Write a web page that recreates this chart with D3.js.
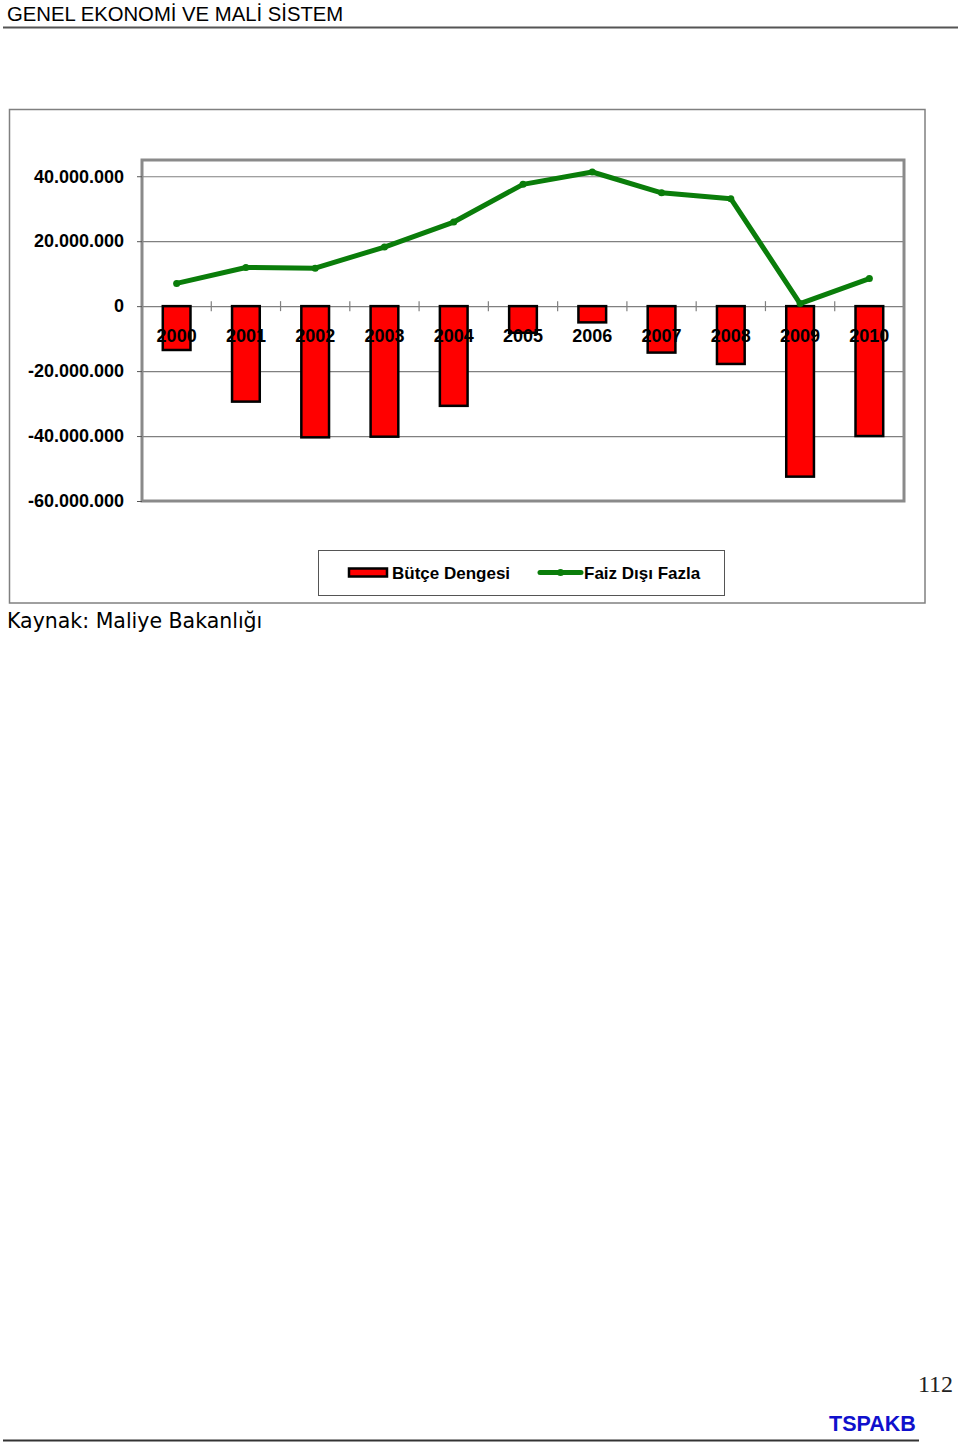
<!DOCTYPE html>
<html>
  <head>
    <meta charset="utf-8">
    <title>Bütçe Dengesi ve Faiz Dışı Fazla</title>
    <script src="https://cdn.jsdelivr.net/npm/d3@7/dist/d3.min.js"></script>
    <style>
      body { margin: 0; background: #fff; }
      #page { font-family: "Liberation Sans", Arial, sans-serif; }
      .yAxis text, .xLabel { font-weight: bold; font-size: 18px; fill: #000; }
      .legendText { font-weight: bold; font-size: 17px; }
    </style>
  </head>

  <body>
    <svg id="page" width="960" height="1442"></svg>

    <script>
      // data (thousand TL)
      const years = ["2000", "2001", "2002", "2003", "2004", "2005", "2006", "2007", "2008", "2009", "2010"];
      const butceDengesi = [-13500000, -29400000, -40400000, -40200000, -30700000, -8200000, -5000000, -14300000, -17800000, -52500000, -40000000];
      const faizDisiFazla = [7000000, 11900000, 11700000, 18200000, 25900000, 37500000, 41300000, 34900000, 33100000, 800000, 8500000];
      const yTicks = [-60000000, -40000000, -20000000, 0, 20000000, 40000000];
      const seriesNames = ["Bütçe Dengesi", "Faiz Dışı Fazla"];

      // elements
      page = d3.select("#page");

      // page header
      page.append("text")
        .attr("x", 7)
        .attr("y", 21)
        .style("font-size", "20.3px")
        .text("GENEL EKONOMİ VE MALİ SİSTEM");
      page.append("line")
        .attr("x1", 3).attr("x2", 958)
        .attr("y1", 27.5).attr("y2", 27.5)
        .attr("stroke", "#555")
        .attr("stroke-width", 2);

      // chart border
      page.append("rect")
        .attr("x", 9.5).attr("y", 109.5)
        .attr("width", 915.5).attr("height", 493.5)
        .attr("fill", "none")
        .attr("stroke", "#808080")
        .attr("stroke-width", 1.5);

      margin = { top: 160, right: 904, bottom: 501, left: 142 };

      x = d3.scaleBand()
        .domain(years)
        .range([margin.left, margin.right])
        .paddingInner(0.6)
        .paddingOuter(0.3);

      y = d3.scaleLinear()
        .domain([-60000000, 45000000])
        .range([margin.bottom, margin.top]);

      const trLocale = d3.formatLocale({ decimal: ",", thousands: ".", grouping: [3], currency: ["", " TL"], minus: "-" });
      const fmt = trLocale.format(",d");

      // gridlines
      page.append("g")
        .attr("transform", "translate(" + margin.left + ",0)")
        .call(d3.axisLeft(y).tickValues(yTicks).tickSize(margin.left - margin.right).tickFormat(""))
        .call(g => g.select(".domain").remove())
        .call(g => g.selectAll("line").attr("stroke", "#808080").attr("stroke-width", 1.2));

      // x ticks at category boundaries on zero line
      const step = x.step();
      page.append("g")
        .selectAll("line")
        .data(years)
        .join("line")
          .attr("x1", d => x(d) + x.bandwidth() / 2 + step / 2)
          .attr("x2", d => x(d) + x.bandwidth() / 2 + step / 2)
          .attr("y1", y(0) - 5)
          .attr("y2", y(0) + 5)
          .attr("stroke", "#808080")
          .attr("stroke-width", 1.2);

      // bars
      page.append("g")
        .selectAll("rect")
        .data(butceDengesi)
        .join("rect")
          .attr("x", (d, i) => x(years[i]))
          .attr("y", d => y(Math.max(0, d)))
          .attr("width", x.bandwidth())
          .attr("height", d => Math.abs(y(d) - y(0)))
          .attr("fill", "#ff0000")
          .attr("stroke", "#000")
          .attr("stroke-width", 2.5);

      // plot frame
      page.append("rect")
        .attr("x", margin.left).attr("y", margin.top)
        .attr("width", margin.right - margin.left)
        .attr("height", margin.bottom - margin.top)
        .attr("fill", "none")
        .attr("stroke", "#8a8a8a")
        .attr("stroke-width", 3);

      // y axis
      page.append("g")
        .attr("class", "yAxis")
        .attr("transform", "translate(" + margin.left + ",0)")
        .call(d3.axisLeft(y).tickValues(yTicks).tickSize(5).tickPadding(13).tickFormat(fmt))
        .call(g => g.select(".domain").remove())
        .call(g => g.selectAll("line").attr("stroke", "#555"))
        .call(g => g.selectAll("text").attr("font-family", null).attr("font-size", null));

      // x labels
      page.append("g")
        .selectAll("text")
        .data(years)
        .join("text")
          .attr("class", "xLabel")
          .attr("x", d => x(d) + x.bandwidth() / 2)
          .attr("y", y(0) + 36)
          .attr("text-anchor", "middle")
          .text(d => d);

      // line
      line = d3.line()
        .x((d, i) => x(years[i]) + x.bandwidth() / 2)
        .y(d => y(d));

      page.append("path")
        .datum(faizDisiFazla)
        .attr("d", line)
        .attr("fill", "none")
        .attr("stroke", "#0a7d0a")
        .attr("stroke-width", 5)
        .attr("stroke-linejoin", "round");

      page.append("g")
        .selectAll("circle")
        .data(faizDisiFazla)
        .join("circle")
          .attr("cx", (d, i) => x(years[i]) + x.bandwidth() / 2)
          .attr("cy", d => y(d))
          .attr("r", 3.5)
          .attr("fill", "#0a7d0a");

      // legend
      legend = page.append("g");
      legend.append("rect")
        .attr("x", 318.5).attr("y", 550.5)
        .attr("width", 406).attr("height", 45)
        .attr("fill", "#fff")
        .attr("stroke", "#555")
        .attr("stroke-width", 1);
      legend.append("rect")
        .attr("x", 349).attr("y", 568.5)
        .attr("width", 38).attr("height", 8)
        .attr("fill", "#ff0000")
        .attr("stroke", "#000")
        .attr("stroke-width", 2.5);
      legend.append("text")
        .attr("class", "legendText")
        .attr("x", 392).attr("y", 579)
        .text(seriesNames[0]);
      legend.append("line")
        .attr("x1", 540).attr("x2", 581)
        .attr("y1", 572.5).attr("y2", 572.5)
        .attr("stroke", "#0a7d0a")
        .attr("stroke-width", 5)
        .attr("stroke-linecap", "round");
      legend.append("circle")
        .attr("cx", 560.5).attr("cy", 572.5)
        .attr("r", 3.5)
        .attr("fill", "#0a7d0a");
      legend.append("text")
        .attr("class", "legendText")
        .attr("x", 584).attr("y", 579)
        .text(seriesNames[1]);

      // source
      page.append("text")
        .attr("x", 7).attr("y", 628)
        .style("font-family", "'DejaVu Sans', Verdana, sans-serif")
        .style("font-size", "20.5px")
        .text("Kaynak: Maliye Bakanlığı");

      // page footer
      page.append("text")
        .attr("x", 953).attr("y", 1392)
        .attr("text-anchor", "end")
        .style("font-family", "'Liberation Serif', 'Times New Roman', serif")
        .style("font-size", "24px")
        .attr("fill", "#222")
        .text("112");
      page.append("text")
        .attr("x", 829).attr("y", 1431)
        .style("font-size", "21.5px")
        .style("font-weight", "bold")
        .attr("fill", "#1010cc")
        .text("TSPAKB");
      page.append("line")
        .attr("x1", 3).attr("x2", 919)
        .attr("y1", 1440.5).attr("y2", 1440.5)
        .attr("stroke", "#333")
        .attr("stroke-width", 2);
    </script>
  </body>
</html>
